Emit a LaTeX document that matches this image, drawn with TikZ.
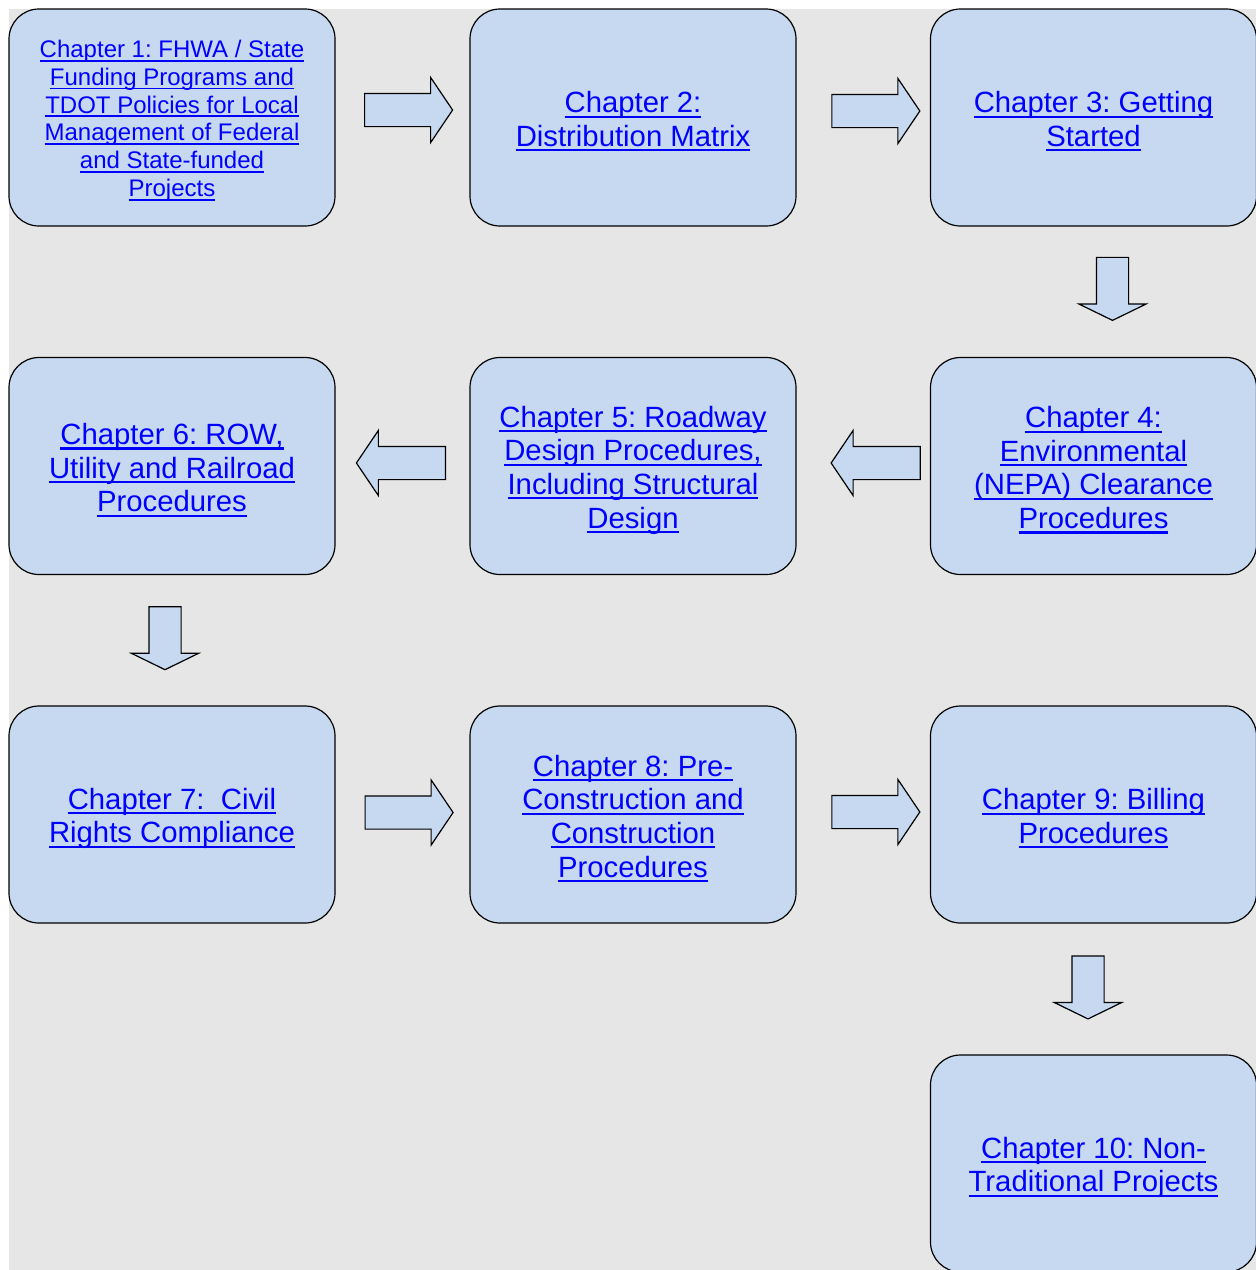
\documentclass[tikz,border=0pt]{standalone}
\usepackage{fontspec}
\setmainfont{Liberation Sans}
\usetikzlibrary{shapes.arrows,calc}

\definecolor{pagegray}{HTML}{E6E6E6}
\definecolor{boxblue}{HTML}{C6D9F1}
\definecolor{linkblue}{HTML}{0000FF}

% one underlined hyperlink-style line of text
\newcommand\lnk[1]{\setbox0\hbox{#1}\leavevmode\rlap{\rule[-0.17em]{\wd0}{0.075em}}\box0}
% invisible prop that gives the first line a full em of height
\newcommand\firstprop{\rule{0pt}{1em}}

\begin{document}
\frenchspacing
\begin{tikzpicture}[x=1pt,y=-1pt,
  chapbox/.style={draw=black, line width=1.2pt, fill=boxblue, rounded corners=30pt,
    minimum width=326pt, minimum height=217pt, inner sep=0pt, align=center,
    text=linkblue, font=\fontsize{29.3}{33.6}\selectfont},
  smalltext/.style={font=\fontsize{24}{27.8}\selectfont},
  blockarrow/.style={single arrow, draw=black, line width=1.2pt, fill=boxblue,
    inner sep=16pt, minimum height=88pt, single arrow head extend=16pt,
    single arrow tip angle=112, anchor=center},
  leftarrow/.style={blockarrow, shape border rotate=180, minimum height=89pt},
  downarrow/.style={blockarrow, shape border rotate=270, inner sep=15.5pt,
    single arrow head extend=17.5pt, minimum height=63pt, single arrow tip angle=128}]

\clip (0,0) rectangle (1256,1270);
\fill[white] (0,0) rectangle (1256,1270);
\fill[pagegray] (9,9) rectangle (1256,1270);

% chapter boxes, row by row
\node[chapbox, smalltext] (c1) at (172,117.5)
  {\firstprop\lnk{Chapter 1: FHWA / State}\\\lnk{Funding Programs and}\\\lnk{TDOT Policies for Local}\\\lnk{Management of Federal}\\\lnk{and State-funded}\\\lnk{Projects}};
\node[chapbox] (c2) at (633,117.5) {\firstprop\lnk{Chapter 2:}\\\lnk{Distribution Matrix}};
\node[chapbox] (c3) at (1093.5,117.5) {\firstprop\lnk{Chapter 3: Getting}\\\lnk{Started}};

\node[chapbox] (c6) at (172,466) {\firstprop\lnk{Chapter 6: ROW,}\\\lnk{Utility and Railroad}\\\lnk{Procedures}};
\node[chapbox] (c5) at (633,466) {\firstprop\lnk{Chapter 5: Roadway}\\\lnk{Design Procedures,}\\\lnk{Including Structural}\\\lnk{Design}};
\node[chapbox] (c4) at (1093.5,466) {\firstprop\lnk{Chapter 4:}\\\lnk{Environmental}\\\lnk{(NEPA) Clearance}\\\lnk{Procedures}};

\node[chapbox] (c7) at (172,814.5) {\firstprop\lnk{Chapter 7:\ \ Civil}\\\lnk{Rights Compliance}};
\node[chapbox] (c8) at (633,814.5) {\firstprop\lnk{Chapter 8: Pre-}\\\lnk{Construction and}\\\lnk{Construction}\\\lnk{Procedures}};
\node[chapbox] (c9) at (1093.5,814.5) {\firstprop\lnk{Chapter 9: Billing}\\\lnk{Procedures}};

\node[chapbox] (c10) at (1093.5,1163.5) {\firstprop\lnk{Chapter 10: Non-}\\\lnk{Traditional Projects}};

% block arrows between consecutive chapters
\node[blockarrow] (a12) at ($(c1.east)!.5!(c2.west)+(0.5,-7.5)$) {};
\node[blockarrow] (a23) at ($(c2.east)!.5!(c3.west)+(7,-6.5)$) {};
\node[downarrow]  (a34) at ($(c3.south)!.5!(c4.north)+(19,-6.8)$) {};
\node[leftarrow]  (a45) at ($(c5.east)!.5!(c4.west)+(18,-3)$) {};
\node[leftarrow]  (a56) at ($(c6.east)!.5!(c5.west)+(4,-3)$) {};
\node[downarrow]  (a67) at ($(c6.south)!.5!(c7.north)+(-7,-6)$) {};
\node[blockarrow] (a78) at ($(c7.east)!.5!(c8.west)+(1,-2)$) {};
\node[blockarrow] (a89) at ($(c8.east)!.5!(c9.west)+(7,-2.5)$) {};
\node[downarrow]  (a910) at ($(c9.south)!.5!(c10.north)+(-5.5,-5.5)$) {};
\end{tikzpicture}
\end{document}
